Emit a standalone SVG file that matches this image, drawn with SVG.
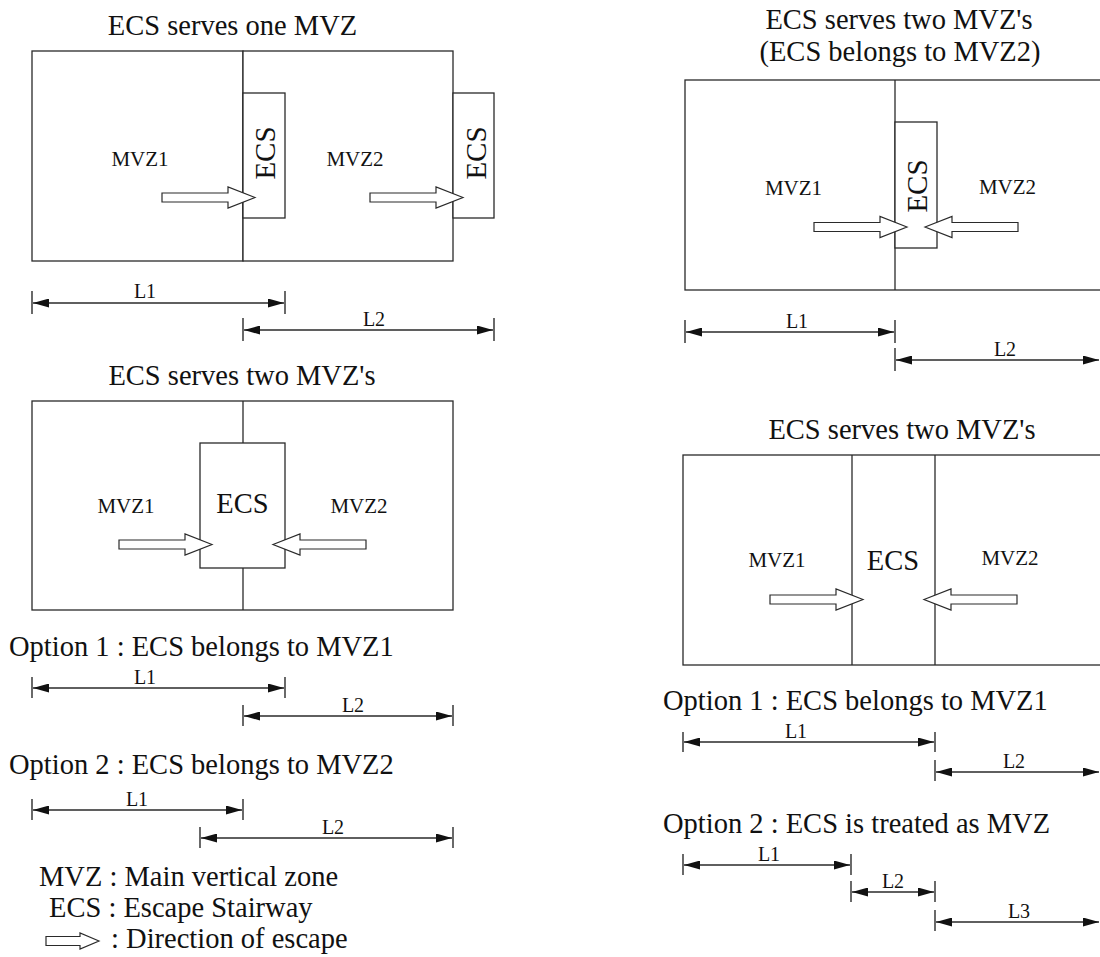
<svg xmlns="http://www.w3.org/2000/svg" width="1100" height="957" viewBox="0 0 1100 957" font-family="'Liberation Serif', Tinos, 'DejaVu Serif', serif">
<style>
.ln{fill:none;stroke:#2a2a2a;stroke-width:1.3}
.bx{fill:#fff;stroke:#2a2a2a;stroke-width:1.3}
.ar{fill:#fff;stroke:#2a2a2a;stroke-width:1.2;stroke-linejoin:miter}
.dim{fill:none;stroke:#2a2a2a;stroke-width:1.3;marker-start:url(#ah);marker-end:url(#ah)}
.tk{fill:none;stroke:#2a2a2a;stroke-width:1.4}
text{fill:#111}
.t{font-size:28.5px}
.m{font-size:21px;text-anchor:middle}
.e{font-size:29px;text-anchor:middle}
.l{font-size:20px;text-anchor:middle}
.c{text-anchor:middle}
</style>
<defs>
<marker id="ah" viewBox="0 0 16 9" refX="16" refY="4.5" markerWidth="16" markerHeight="9" markerUnits="userSpaceOnUse" orient="auto-start-reverse">
<path d="M0,0 L16,4.5 L0,9 Z" fill="#111"/>
</marker>
<path id="esc" d="M0,0 L-27,-10.5 L-27,-4.5 L-93,-4.5 L-93,4.5 L-27,4.5 L-27,10.5 Z"/>
</defs>
<rect width="1100" height="957" fill="#fff"/>

<!-- Panel 1: ECS serves one MVZ -->
<g id="panel1">
<text class="t c" x="232.5" y="35">ECS serves one MVZ</text>
<g id="p1-mvz1"><rect class="bx" x="32" y="51" width="211" height="210"/><text class="m" x="140" y="166">MVZ1</text></g>
<g id="p1-mvz2"><rect class="bx" x="243" y="51" width="210" height="210"/><text class="m" x="355" y="166">MVZ2</text></g>
<g id="p1-ecs1"><rect class="bx" x="243" y="93" width="42" height="125"/><text class="e" transform="translate(265,153) rotate(-90)" x="0" y="9.6">ECS</text></g>
<g id="p1-ecs2"><rect class="bx" x="453" y="93" width="41" height="125"/><text class="e" transform="translate(476,153) rotate(-90)" x="0" y="9.6">ECS</text></g>
</g>

<!-- Panel 2: ECS serves two MVZ's (left) -->
<g id="panel2">
<text class="t c" x="242" y="385">ECS serves two MVZ's</text>
<g id="p2-zones"><rect class="bx" x="32" y="401" width="421" height="209"/><line class="ln" x1="243" y1="401" x2="243" y2="610"/>
<text class="m" x="126" y="513">MVZ1</text><text class="m" x="359" y="513">MVZ2</text></g>
<g id="p2-ecs"><rect class="bx" x="200" y="443" width="85" height="125"/><text class="t c" x="242.5" y="513">ECS</text></g>
<text class="t" x="9" y="656">Option 1 : ECS belongs to MVZ1</text>
<text class="t" x="9" y="774">Option 2 : ECS belongs to MVZ2</text>
</g>

<!-- Legend -->
<g id="legend">
<text class="t" x="39" y="886">MVZ : Main vertical zone</text>
<text class="t" x="49" y="917">ECS : Escape Stairway</text>
<path class="ar" d="M99,941 L80,933 L80,936.5 L46,936.5 L46,945.5 L80,945.5 L80,949 Z"/>
<text class="t" x="111" y="948">: Direction of escape</text>
</g>

<!-- Panel 3: ECS serves two MVZ's (ECS belongs to MVZ2) -->
<g id="panel3">
<text class="t c" x="899" y="29">ECS serves two MVZ's</text>
<text class="t c" x="900" y="61">(ECS belongs to MVZ2)</text>
<g id="p3-zones"><rect class="bx" x="685" y="80" width="430" height="210"/><line class="ln" x1="895" y1="80" x2="895" y2="290"/>
<text class="m" x="793.5" y="195">MVZ1</text><text class="m" x="1007.5" y="194">MVZ2</text></g>
<g id="p3-ecs"><rect class="bx" x="895" y="122" width="42" height="126"/><text class="e" transform="translate(917,186) rotate(-90)" x="0" y="9.6">ECS</text></g>
</g>

<!-- Panel 4: ECS serves two MVZ's (right) -->
<g id="panel4">
<text class="t c" x="902" y="439">ECS serves two MVZ's</text>
<g id="p4-zones"><rect class="bx" x="683" y="455" width="432" height="210"/>
<text class="m" x="777" y="567">MVZ1</text><text class="m" x="1010" y="565">MVZ2</text></g>
<g id="p4-ecs"><line class="ln" x1="852" y1="455" x2="852" y2="665"/><line class="ln" x1="935" y1="455" x2="935" y2="665"/><text class="t c" x="893" y="570">ECS</text></g>
<text class="t" x="663" y="710">Option 1 : ECS belongs to MVZ1</text>
<text class="t" x="663" y="833">Option 2 : ECS is treated as MVZ</text>
</g>

<!-- Connectors: escape arrows and dimension lines -->
<g id="connectors">
<use href="#esc" class="ar" transform="translate(255,197.5)"/>
<use href="#esc" class="ar" transform="translate(463,197.5)"/>
<use href="#esc" class="ar" transform="translate(212,544.5)"/>
<use href="#esc" class="ar" transform="translate(273,544.5) scale(-1,1)"/>
<use href="#esc" class="ar" transform="translate(907,227)"/>
<use href="#esc" class="ar" transform="translate(925,227) scale(-1,1)"/>
<use href="#esc" class="ar" transform="translate(863,599.5)"/>
<use href="#esc" class="ar" transform="translate(924,599.5) scale(-1,1)"/>

<line class="dim" x1="33" y1="303" x2="284" y2="303"/>
<line class="tk" x1="32" y1="291" x2="32" y2="314"/><line class="tk" x1="285" y1="291" x2="285" y2="314"/>
<text class="l" x="145" y="298">L1</text>
<line class="dim" x1="244" y1="330" x2="493" y2="330"/>
<line class="tk" x1="243" y1="318" x2="243" y2="341"/><line class="tk" x1="494" y1="318" x2="494" y2="341"/>
<text class="l" x="374" y="326">L2</text>

<line class="dim" x1="33" y1="688" x2="284" y2="688"/>
<line class="tk" x1="32" y1="677" x2="32" y2="698"/><line class="tk" x1="285" y1="677" x2="285" y2="698"/>
<text class="l" x="145" y="684">L1</text>
<line class="dim" x1="244" y1="716" x2="452" y2="716"/>
<line class="tk" x1="243" y1="705" x2="243" y2="726"/><line class="tk" x1="453" y1="705" x2="453" y2="726"/>
<text class="l" x="353" y="712">L2</text>

<line class="dim" x1="33" y1="810" x2="242" y2="810"/>
<line class="tk" x1="32" y1="799" x2="32" y2="820"/><line class="tk" x1="243" y1="799" x2="243" y2="820"/>
<text class="l" x="137" y="806">L1</text>
<line class="dim" x1="201" y1="838" x2="452" y2="838"/>
<line class="tk" x1="200" y1="827" x2="200" y2="848"/><line class="tk" x1="453" y1="827" x2="453" y2="848"/>
<text class="l" x="333" y="834">L2</text>

<line class="dim" x1="686" y1="332" x2="894" y2="332"/>
<line class="tk" x1="685" y1="320" x2="685" y2="343"/><line class="tk" x1="895" y1="320" x2="895" y2="343"/>
<text class="l" x="797" y="328">L1</text>
<line class="dim" x1="896" y1="360" x2="1099" y2="360"/>
<line class="tk" x1="895" y1="348" x2="895" y2="371"/>
<text class="l" x="1005" y="356">L2</text>

<line class="dim" x1="684" y1="742" x2="934" y2="742"/>
<line class="tk" x1="683" y1="732" x2="683" y2="752"/><line class="tk" x1="935" y1="732" x2="935" y2="752"/>
<text class="l" x="796" y="738">L1</text>
<line class="dim" x1="936" y1="772" x2="1099" y2="772"/>
<line class="tk" x1="935" y1="760" x2="935" y2="781"/>
<text class="l" x="1014" y="768">L2</text>

<line class="dim" x1="684" y1="865" x2="850" y2="865"/>
<line class="tk" x1="683" y1="854" x2="683" y2="875"/><line class="tk" x1="851" y1="854" x2="851" y2="875"/>
<text class="l" x="769" y="861">L1</text>
<line class="dim" x1="852" y1="892" x2="934" y2="892"/>
<line class="tk" x1="851" y1="881" x2="851" y2="902"/><line class="tk" x1="935" y1="881" x2="935" y2="902"/>
<text class="l" x="893" y="888">L2</text>
<line class="dim" x1="936" y1="922" x2="1099" y2="922"/>
<line class="tk" x1="935" y1="910" x2="935" y2="931"/>
<text class="l" x="1019" y="918">L3</text>
</g>
</svg>
